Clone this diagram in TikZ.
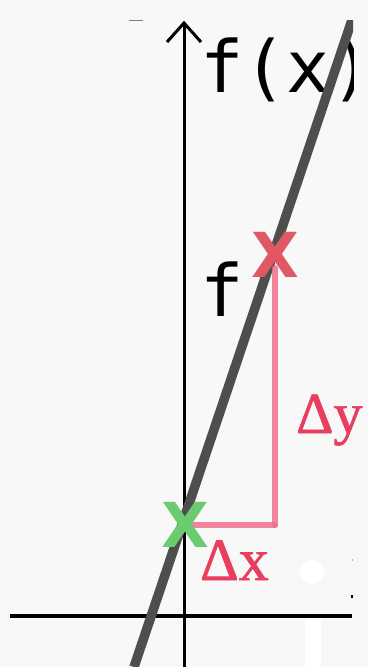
\documentclass[tikz,border=0pt]{standalone}
\usepackage{fontspec}
\newfontfamily\monofnt{DejaVu Sans Mono}
\newfontfamily\serifnt{Liberation Serif}[FakeBold=1.2]
\newfontfamily\xfnt{DejaVu Sans}
\definecolor{bgc}{RGB}{248,248,248}
\definecolor{fline}{RGB}{78,78,78}
\definecolor{pinkl}{RGB}{238,112,138}
\definecolor{redx}{RGB}{224,88,100}
\definecolor{greenx}{RGB}{106,204,110}
\definecolor{dtxt}{RGB}{232,62,96}
\tikzset{
  axisline/.style={line width=3pt,black},
  graphline/.style={line width=9.5pt,fline},
  deltaline/.style={line width=6pt,pinkl,line cap=round,opacity=0.85},
  bigtxt/.style={inner sep=0pt,anchor=base west,font=\monofnt\fontsize{72}{72}\selectfont},
  marktxt/.style={inner sep=0pt,anchor=center,font=\xfnt\bfseries\fontsize{62}{62}\selectfont},
  dtxtstyle/.style={inner sep=0pt,anchor=base west,text=dtxt},
}
\begin{document}
\begin{tikzpicture}[x=1pt,y=-1pt]
\fill[bgc] (0,0) rectangle (368,667);
\useasboundingbox (0,0) rectangle (368,667);
% small marks
\draw[line width=1pt,gray] (129,20) -- (143,20);
\fill[gray!60] (351.5,559) rectangle (352.5,561);
\fill[black] (351,595) rectangle (353,598);
% white marks
\fill[white] (312,572) circle (12);
\fill[white] (305,619) rectangle (321,667);
% axes
\coordinate (ytop) at (184,23);
\coordinate (ybot) at (184,667);
\coordinate (xl) at (10,616);
\coordinate (xr) at (352,616);
\draw[axisline] (ybot) -- (ytop);
\draw[axisline,line join=miter] (167,42) -- (ytop) -- (201,42);
\draw[line width=3.5pt] (xl) -- (xr);
% texts and graph line (clipped)
\begin{scope}
\clip (0,20) rectangle (353,667);
\node[bigtxt] (fx) at (200,92) {f(x)};
\coordinate (gtop) at (352,20);
\coordinate (gbot) at (134,667);
\draw[graphline] (gbot) -- (gtop);
\end{scope}
\node[bigtxt] (f2) at (200,316) {f};
% delta lines
\coordinate (p1) at (193,525);
\coordinate (corner) at (275,525);
\coordinate (p2) at (275,268);
\draw[deltaline] (p1) -- (corner);
\draw[deltaline] (corner) -- (p2);
% markers
\node[marktxt,text=redx] (rx) at (275,255) {X};
\node[marktxt,text=greenx] (gx) at (185,525) {X};
% delta labels
\node[dtxtstyle,font=\serifnt\fontsize{60}{60}\selectfont] (dx) at (200,580) {Δx};
\node[dtxtstyle,font=\serifnt\fontsize{58}{58}\selectfont] (dy) at (296,433) {Δy};
\end{tikzpicture}
\end{document}
